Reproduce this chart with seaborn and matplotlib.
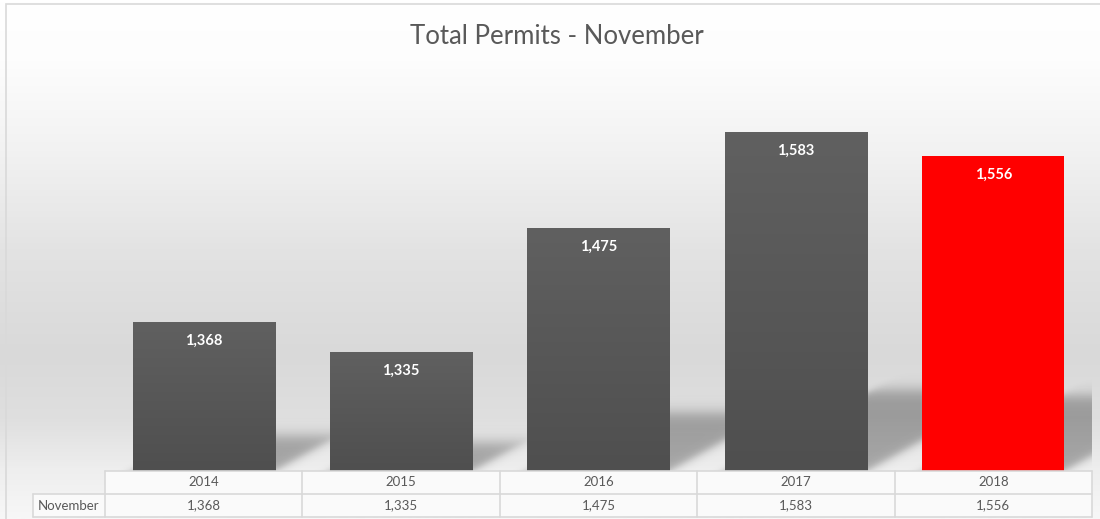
import numpy as np
import matplotlib
matplotlib.use("Agg")
import matplotlib.pyplot as plt
from matplotlib.colors import LinearSegmentedColormap
from matplotlib.patches import Rectangle
import seaborn as sns

years = ["2014", "2015", "2016", "2017", "2018"]
permits = [1368, 1335, 1475, 1583, 1556]
bar_colors = ["#565656", "#565656", "#565656", "#565656", "#ff0000"]
row_label = "November"
title = "Total Permits - November"

sns.set_style("white")
plt.rcParams["font.family"] = ["Lato", "DejaVu Sans"]

W, H = 1100, 519
fig = plt.figure(figsize=(W / 100, H / 100), dpi=100)

# background gradient of the chart area
bg = fig.add_axes([0, 0, 1, 1], zorder=-10)
stops = [(0.0, "#ffffff"), (60 / H, "#fdfdfd"), (150 / H, "#f2f2f2"),
         (250 / H, "#e3e3e3"), (355 / H, "#d9d9d9"), (420 / H, "#dfdfdf"),
         (470 / H, "#eeeeee"), (1.0, "#f7f7f7")]
cmap = LinearSegmentedColormap.from_list("bg", stops)
grad = np.linspace(0, 1, 600).reshape(-1, 1)
bg.imshow(grad, aspect="auto", cmap=cmap, extent=[0, 1, 0, 1], origin="upper")
bg.set_xlim(0, 1); bg.set_ylim(0, 1)
bg.axis("off")
bg.add_patch(Rectangle((5.5 / W, -0.1), 1.2, (H - 4.5) / H + 0.1, fill=False,
                       edgecolor="#d9d9d9", lw=1.2))

ax_w, ax_h = 987, 442
ax = fig.add_axes([105 / W, 48 / H, ax_w / W, ax_h / H])
ax.set_facecolor("none")
sns.barplot(x=years, y=permits, hue=years, palette=bar_colors, width=0.72,
            legend=False, ax=ax, saturation=1, linewidth=0, zorder=3)
ylo, yhi = 1200, 1700
xlo, xhi = -0.5, len(years) - 0.5
ax.set_ylim(ylo, yhi)
ax.set_xlim(xlo, xhi)
ax.set_xticks([]); ax.set_yticks([])
ax.set_xlabel(""); ax.set_ylabel("")
for s in ax.spines.values():
    s.set_visible(False)

# soft perspective shadows (computed in pixel space of the axes)
sx = ax_w / (xhi - xlo)
sy = ax_h / (yhi - ylo)
gx, gy = np.meshgrid(np.arange(ax_w) + 0.5, np.arange(ax_h) + 0.5)
alpha = np.zeros_like(gx)

def soft(d, blur):
    return 1 / (1 + np.exp(-d / blur))

bars = list(ax.patches)
for p in bars:
    x0 = (p.get_x() - xlo) * sx
    w = p.get_width() * sx
    h = (p.get_height() - ylo) * sy
    sh = 0.24 * h
    dx = 1.8 * sh
    shift = dx * gy / sh
    m = soft(gx - (x0 + shift), 4) * soft((x0 + w + shift) - gx, 5) * soft(sh - gy, 4)
    alpha = np.maximum(alpha, m)
rgba = np.zeros((ax_h, ax_w, 4))
rgba[..., 3] = alpha * 0.3
ax.imshow(rgba, extent=[xlo, xhi, ylo, yhi], origin="lower", aspect="auto",
          zorder=1, interpolation="bilinear")

bar_cmap = LinearSegmentedColormap.from_list("bar", ["#606060", "#4f4f4f"])
for i, p in enumerate(bars):
    x0, w, top = p.get_x(), p.get_width(), p.get_height()
    if i < len(years) - 1:
        im = ax.imshow(np.linspace(0, 1, 100).reshape(-1, 1), cmap=bar_cmap,
                       aspect="auto", extent=[x0, x0 + w, ylo, top],
                       origin="upper", zorder=4)
        im.set_clip_path(p)
    ax.annotate(f"{permits[i]:,}", (x0 + w / 2, top), xytext=(0, -13.5),
                textcoords="offset points", ha="center", va="center",
                color="white", fontsize=10.5, fontweight="bold", zorder=6)
ax.set_xlim(xlo, xhi)
ax.set_ylim(ylo, yhi)

# data table under the plot
tr = ax.get_xaxis_transform()
rh = 23 / ax_h
lc = "#d9d9d9"
n = len(years)
ax.add_patch(Rectangle((xlo, -2 * rh), n, 2 * rh, transform=tr, clip_on=False,
                       facecolor="#fafafa", edgecolor="none", zorder=2))
lab_x = xlo - 72 / sx
ax.add_patch(Rectangle((lab_x, -2 * rh), xlo - lab_x, rh, transform=tr,
                       clip_on=False, facecolor="#fafafa", edgecolor="none", zorder=2))
for y in [0, -rh]:
    ax.plot([xlo, xhi], [y, y], transform=tr, color=lc, lw=1.2, clip_on=False, zorder=5)
ax.plot([lab_x, xhi], [-2 * rh, -2 * rh], transform=tr, color=lc, lw=1.2, clip_on=False, zorder=5)
ax.plot([lab_x, xlo], [-rh, -rh], transform=tr, color=lc, lw=1.2, clip_on=False, zorder=5)
ax.plot([lab_x, lab_x], [-rh, -2 * rh], transform=tr, color=lc, lw=1.2, clip_on=False, zorder=5)
for i in range(n + 1):
    ax.plot([i - 0.5, i - 0.5], [0, -2 * rh], transform=tr, color=lc, lw=1.2,
            clip_on=False, zorder=5)
for i, (yr, v) in enumerate(zip(years, permits)):
    ax.text(i, -rh / 2, yr, transform=tr, ha="center", va="center",
            fontsize=9.5, color="#595959")
    ax.text(i, -1.5 * rh, f"{v:,}", transform=tr, ha="center", va="center",
            fontsize=9.5, color="#595959")
ax.text((lab_x + xlo) / 2, -1.5 * rh, row_label, transform=tr, ha="center",
        va="center", fontsize=9.5, color="#595959")

fig.text(557 / W, 1 - 37 / H, title, ha="center", va="center", fontsize=18.5,
         color="#595959")

fig.savefig("out.png", dpi=100)
